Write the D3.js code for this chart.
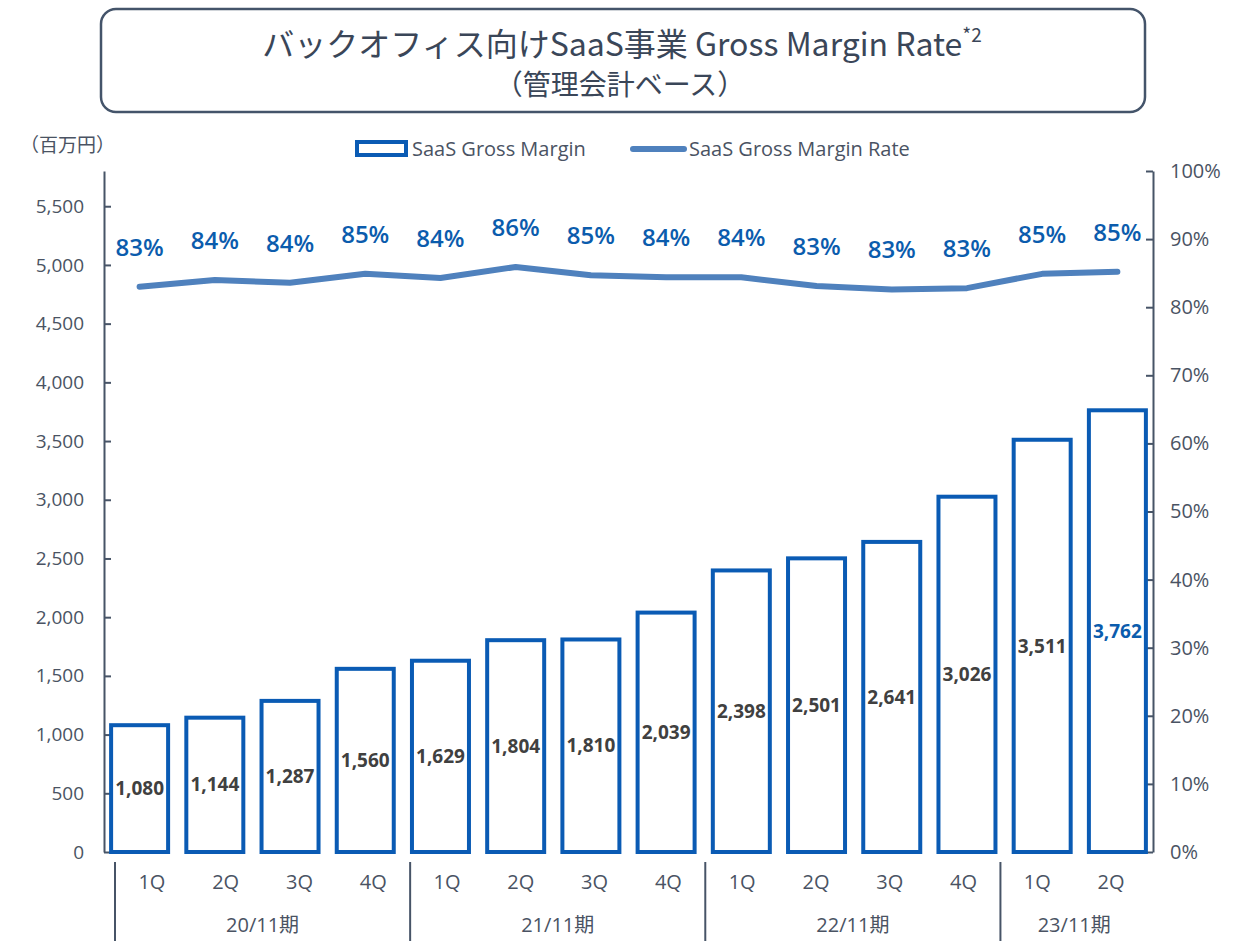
<!DOCTYPE html>
<html>
<head>
<meta charset="utf-8">
<script src="https://cdn.jsdelivr.net/npm/d3@7"></script>
<style>
  body { margin: 0; background: #fff; }
  svg text { font-family: "Open Sans", "Noto Sans CJK JP", sans-serif; }
</style>
</head>
<body>
<div id="chart"></div>
<script>
// data
var quarters = ["1Q", "2Q", "3Q", "4Q", "1Q", "2Q", "3Q", "4Q", "1Q", "2Q", "3Q", "4Q", "1Q", "2Q"];
var periods = ["20/11期", "21/11期", "22/11期", "23/11期"];
var periodSize = [4, 4, 4, 2];
var grossMargin = [1080, 1144, 1287, 1560, 1629, 1804, 1810, 2039, 2398, 2501, 2641, 3026, 3511, 3762];
var marginRate = [0.830, 0.840, 0.836, 0.849, 0.843, 0.859, 0.847, 0.844, 0.844, 0.831, 0.826, 0.828, 0.849, 0.852];
var leftTicks = [0, 500, 1000, 1500, 2000, 2500, 3000, 3500, 4000, 4500, 5000, 5500];
var rightTicks = [0, 0.1, 0.2, 0.3, 0.4, 0.5, 0.6, 0.7, 0.8, 0.9, 1.0];

var width = 1243;
var height = 941;
var axisColor = "#475467";
var textColor = "#4a5363";
var barColor = "#0a5bb4";
var lineColor = "#4f81bd";
var labelBlue = "#0b5cad";

var svg = d3.select("#chart").append("svg")
  .attr("width", width)
  .attr("height", height);

// title box
svg.append("rect")
  .attr("x", 101).attr("y", 9)
  .attr("width", 1044).attr("height", 103)
  .attr("rx", 15)
  .attr("fill", "#fff")
  .attr("stroke", "#44546a")
  .attr("stroke-width", 2.5);

var title = svg.append("text")
  .attr("x", 622).attr("y", 56)
  .attr("text-anchor", "middle")
  .attr("fill", "#3a4658")
  .attr("font-size", 32)
  .style("font-family", "'Noto Sans CJK JP', sans-serif");
title.append("tspan").text("バックオフィス向けSaaS事業 Gross Margin Rate");
title.append("tspan").attr("font-size", 19).attr("dy", -14).text("*2");

svg.append("text")
  .attr("x", 620).attr("y", 95)
  .attr("text-anchor", "middle")
  .attr("fill", "#3a4658")
  .attr("font-size", 28)
  .style("font-family", "'Noto Sans CJK JP', sans-serif")
  .text("（管理会計ベース）");

// unit label
svg.append("text")
  .attr("x", 20).attr("y", 152)
  .attr("fill", textColor)
  .attr("font-size", 19)
  .style("font-family", "'Noto Sans CJK JP', sans-serif")
  .text("（百万円）");

// scales
var x = d3.scaleBand()
  .domain(d3.range(grossMargin.length))
  .range([102, 1155]);
var yLeft = d3.scaleLinear().domain([0, 5800]).range([852, 171]);
var yRight = d3.scaleLinear().domain([0, 1]).range([852, 171]);

// axes
var leftAxis = d3.axisLeft(yLeft)
  .tickValues(leftTicks)
  .tickFormat(d3.format(","))
  .tickSize(-7)
  .tickSizeOuter(0)
  .tickPadding(20);
var gl = svg.append("g")
  .attr("transform", "translate(104,0)")
  .call(leftAxis);

var rightAxis = d3.axisRight(yRight)
  .tickValues(rightTicks)
  .tickFormat(d3.format(".0%"))
  .tickSize(-7)
  .tickSizeOuter(0)
  .tickPadding(17);
var gr = svg.append("g")
  .attr("transform", "translate(1153,0)")
  .call(rightAxis);

[gl, gr].forEach(function(g) {
  g.select(".domain").attr("stroke", axisColor).attr("stroke-width", 2);
  g.selectAll(".tick line").attr("stroke", axisColor).attr("stroke-width", 2);
  g.selectAll(".tick text")
    .attr("fill", textColor)
    .attr("font-size", 19)
    .style("font-family", "'Open Sans', sans-serif");
});
gr.selectAll(".tick text").attr("font-size", 20);

// bars
var barW = 57;
svg.append("g").selectAll("rect")
  .data(grossMargin)
  .enter()
  .append("rect")
  .attr("x", function(d, i) { return x(i) + x.bandwidth() / 2 - barW / 2; })
  .attr("y", function(d) { return yLeft(d); })
  .attr("width", barW)
  .attr("height", function(d) { return yLeft(0) - yLeft(d); })
  .attr("fill", "#fff")
  .attr("stroke", barColor)
  .attr("stroke-width", 4);

svg.append("g").selectAll("text")
  .data(grossMargin)
  .enter()
  .append("text")
  .attr("x", function(d, i) { return x(i) + x.bandwidth() / 2; })
  .attr("y", function(d) { return (yLeft(d) + yLeft(0)) / 2; })
  .attr("dy", "0.35em")
  .attr("text-anchor", "middle")
  .attr("font-size", 19)
  .attr("font-weight", "bold")
  .attr("fill", function(d, i) { return i === grossMargin.length - 1 ? labelBlue : "#404040"; })
  .text(d3.format(","));

// rate line
var line = d3.line()
  .x(function(d, i) { return x(i) + x.bandwidth() / 2; })
  .y(function(d) { return yRight(d); });

svg.append("path")
  .datum(marginRate)
  .attr("d", line)
  .attr("fill", "none")
  .attr("stroke", lineColor)
  .attr("stroke-width", 6)
  .attr("stroke-linecap", "round")
  .attr("stroke-linejoin", "round");

svg.append("g").selectAll("text")
  .data(marginRate)
  .enter()
  .append("text")
  .attr("x", function(d, i) { return x(i) + x.bandwidth() / 2; })
  .attr("y", function(d) { return yRight(d) - 31; })
  .attr("text-anchor", "middle")
  .attr("font-size", 24)
  .attr("font-weight", 600)
  .attr("fill", labelBlue)
  .text(d3.format(".0%"));

// category axis (quarters + fiscal periods)
var cat = d3.scaleBand()
  .domain(d3.range(quarters.length))
  .range([115, 1148]);

svg.append("g").selectAll("text")
  .data(quarters)
  .enter()
  .append("text")
  .attr("x", function(d, i) { return cat(i) + cat.bandwidth() / 2; })
  .attr("y", 889)
  .attr("text-anchor", "middle")
  .attr("font-size", 20)
  .attr("fill", textColor)
  .text(function(d) { return d; });

var start = 0;
var groups = periods.map(function(p, k) {
  var g = { name: p, first: start, last: start + periodSize[k] - 1 };
  start += periodSize[k];
  return g;
});

var pg = svg.append("g");
groups.forEach(function(g) {
  var x0 = cat(g.first);
  var x1 = cat(g.last) + cat.bandwidth();
  pg.append("line")
    .attr("x1", x0).attr("x2", x0)
    .attr("y1", 862).attr("y2", 941)
    .attr("stroke", axisColor)
    .attr("stroke-width", 2);
  pg.append("text")
    .attr("x", (x0 + x1) / 2)
    .attr("y", 932)
    .attr("text-anchor", "middle")
    .attr("font-size", 20)
    .attr("fill", textColor)
    .style("font-family", "'Open Sans', 'Noto Sans CJK JP', sans-serif")
    .text(g.name);
});

// legend
var lg = svg.append("g");
lg.append("rect")
  .attr("x", 357).attr("y", 142)
  .attr("width", 49).attr("height", 13)
  .attr("fill", "#fff")
  .attr("stroke", barColor)
  .attr("stroke-width", 4);
lg.append("text")
  .attr("x", 412).attr("y", 156)
  .attr("font-size", 20)
  .attr("fill", textColor)
  .text("SaaS Gross Margin");
lg.append("line")
  .attr("x1", 633).attr("x2", 684)
  .attr("y1", 149).attr("y2", 149)
  .attr("stroke", lineColor)
  .attr("stroke-width", 6)
  .attr("stroke-linecap", "round");
lg.append("text")
  .attr("x", 689).attr("y", 156)
  .attr("font-size", 20)
  .attr("fill", textColor)
  .text("SaaS Gross Margin Rate");
</script>
</body>
</html>
